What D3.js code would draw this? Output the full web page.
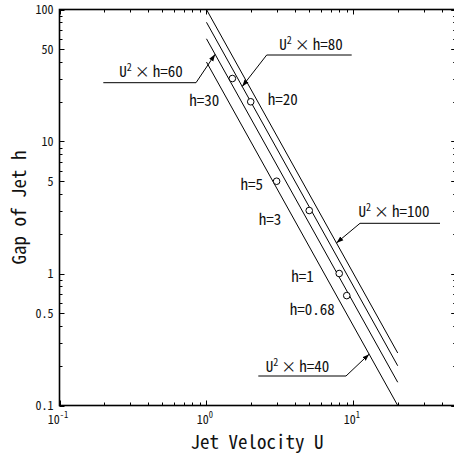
<!DOCTYPE html>
<html><head><meta charset="utf-8">
<script src="https://cdn.jsdelivr.net/npm/d3@7"></script>
<style>body{margin:0;background:#fff}svg{display:block}</style>
</head><body><svg id="c" width="454" height="457"></svg>
<script>
// ---- data ----
const products = [40, 60, 80, 100];            // U^2 x h = const
const lineUStart = 1, lineUEnd = 20;
const pointU = [1.5, 2, 3, 5, 8, 9];
const pointH = [30, 20, 5, 3, 1, 0.68];
const pointLabels = ["h=30", "h=20", "h=5", "h=3", "h=1", "h=0.68"];
const xTickValues = [0.1, 1, 10];
const xTickExp = ["-1", "0", "1"];
const yTickValues = [0.1, 0.5, 1, 5, 10, 50, 100];
const yTickLabels = ["0.1", "0.5", "1", "5", "10", "50", "100"];
const arrowU = [12.78, 1.145, 1.75, 7.66];      // where each annotation arrow meets its line
const xTitle = "Jet Velocity U", yTitle = "Gap of Jet h";

// ---- layout ----
const FONT = "'Noto Sans Mono CJK JP','Noto Sans CJK JP','DejaVu Sans Mono',monospace";
const m = {l: 59.5, t: 9.5};
const W = 396.7, H = 396;
const labelOff = [[-13, 27, "end"], [17, 3.5, "start"], [-13.5, 9, "end"], [-28, 14.7, "end"], [-25.5, 8.4, "end"], [-12, 19.6, "end"]];
// elbow (px), shelf end (px), text centre x, text baseline y
const annot = [
  {elbow: [346, 376], shelf: 258.3, tx: 297.5, ty: 371.7},
  {elbow: [196, 82.7], shelf: 103.3, tx: 151, ty: 76.7},
  {elbow: [266.7, 55], shelf: 351.7, tx: 311, ty: 50},
  {elbow: [360, 223.3], shelf: 440, tx: 394, ty: 216.7}
];

const svg = d3.select("#c");
const x = d3.scaleLog().domain([0.1, 50]).range([m.l, m.l + W]);
const y = d3.scaleLog().domain([0.1, 100]).range([m.t + H, m.t]);

svg.append("defs").append("marker").attr("id", "ah")
  .attr("viewBox", "0 0 10 10").attr("refX", 10).attr("refY", 5)
  .attr("markerWidth", 7).attr("markerHeight", 7).attr("markerUnits", "userSpaceOnUse")
  .attr("orient", "auto")
  .append("path").attr("d", "M0,1.5L10,5L0,8.5z").attr("fill", "#000");

// minor/major ticks
const xMinor = [], yMinor = [];
[0.1, 1, 10].forEach(d => { for (let k = 2; k <= 9; k++) if (d * k <= 50) xMinor.push(d * k); });
[0.1, 1, 10].forEach(d => { for (let k = 2; k <= 9; k++) yMinor.push(d * k); });
const xMajor = [0.1, 1, 10], yMajor = [0.1, 1, 10, 100];
const tickG = svg.append("g").attr("stroke", "#000").attr("stroke-width", 1);
const x0 = x.range()[0], x1 = x.range()[1], y0 = y.range()[0], y1 = y.range()[1];
function xt(vals, len) {
  vals.forEach(v => {
    const px = Math.round(x(v)) + 0.5;
    tickG.append("line").attr("x1", px).attr("x2", px).attr("y1", y0).attr("y2", y0 - len);
    tickG.append("line").attr("x1", px).attr("x2", px).attr("y1", y1).attr("y2", y1 + len);
  });
}
function yt(vals, len) {
  vals.forEach(v => {
    const py = Math.round(y(v)) + 0.5;
    tickG.append("line").attr("x1", x0).attr("x2", x0 + len).attr("y1", py).attr("y2", py);
    tickG.append("line").attr("x1", x1).attr("x2", x1 - len).attr("y1", py).attr("y2", py);
  });
}
xt(xMinor, 3); xt(xMajor, 5); yt(yMinor, 3); yt([0.5, 5, 50], 5); yt(yMajor, 5);

// frame
svg.append("rect").attr("x", x0).attr("y", y1).attr("width", x1 - x0).attr("height", y0 - y1)
  .attr("fill", "none").attr("stroke", "#000").attr("stroke-width", 1.6);

// tick labels
const yl = svg.append("g").attr("font-family", FONT).attr("font-size", 12).attr("text-anchor", "end").attr("fill", "#111");
yTickValues.forEach((v, i) => {
  yl.append("text").attr("x", 53.5).attr("y", y(v) + 4.3).text(yTickLabels[i]);
});
const xl = svg.append("g").attr("font-family", FONT).attr("font-size", 12).attr("text-anchor", "middle").attr("fill", "#111");
xTickValues.forEach((v, i) => {
  const t = xl.append("text").attr("x", x(v) - 1.5).attr("y", 423.7);
  t.append("tspan").text("10");
  t.append("tspan").attr("font-size", 8.5).attr("dy", -6).text(xTickExp[i]);
});

// titles
svg.append("text").attr("font-family", FONT).attr("font-size", 19).attr("text-anchor", "middle").attr("fill", "#111")
  .attr("x", 257).attr("y", 448.7).text(xTitle);
svg.append("text").attr("font-family", FONT).attr("font-size", 19).attr("text-anchor", "middle").attr("fill", "#111")
  .attr("transform", "translate(25.5,207.5) rotate(-90)").text(yTitle);

// constant lines
const line = d3.line().x(d => x(d[0])).y(d => y(d[1]));
products.forEach(c => {
  svg.append("path").attr("d", line([[lineUStart, c / lineUStart ** 2], [lineUEnd, c / lineUEnd ** 2]]))
    .attr("fill", "none").attr("stroke", "#000").attr("stroke-width", 1);
});

// points
pointU.forEach((u, i) => {
  svg.append("circle").attr("cx", x(u)).attr("cy", y(pointH[i])).attr("r", 3.3)
    .attr("fill", "#fff").attr("stroke", "#000").attr("stroke-width", 1);
});
const pl = svg.append("g").attr("font-family", FONT).attr("font-size", 15).attr("fill", "#111");
pointU.forEach((u, i) => {
  const o = labelOff[i];
  pl.append("text").attr("x", x(u) + o[0]).attr("y", y(pointH[i]) + o[1]).attr("text-anchor", o[2]).text(pointLabels[i]);
});

// annotations
products.forEach((c, i) => {
  const a = annot[i];
  const tu = arrowU[i], tx = x(tu), ty = y(c / tu ** 2);
  svg.append("path").attr("d", `M${a.shelf},${a.elbow[1]}L${a.elbow[0]},${a.elbow[1]}L${tx},${ty}`)
    .attr("fill", "none").attr("stroke", "#000").attr("stroke-width", 1).attr("marker-end", "url(#ah)");
  const t = svg.append("text").attr("font-family", FONT).attr("font-size", 15).attr("fill", "#111")
    .attr("text-anchor", "middle").attr("x", a.tx).attr("y", a.ty);
  t.append("tspan").text("U");
  t.append("tspan").attr("font-size", 10).attr("dy", -6).text("2");
  t.append("tspan").attr("dy", 6).attr("dx", 3).text("×");
  t.append("tspan").attr("dx", 3).text("h=" + c);
});
</script></body></html>
